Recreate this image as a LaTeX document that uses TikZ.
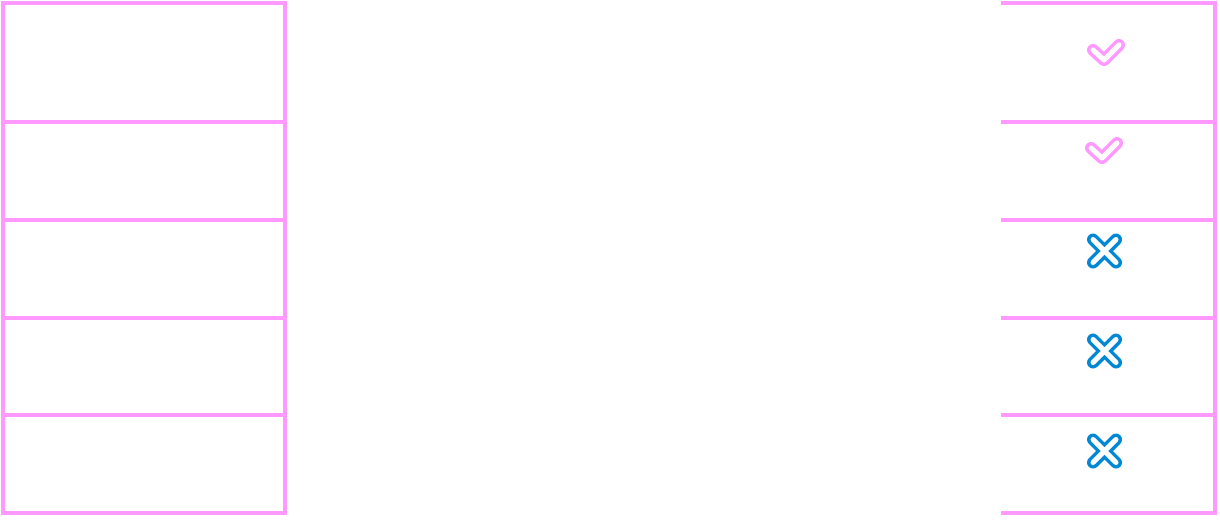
\documentclass[tikz,border=0pt]{standalone}
\usepackage{amsmath}
\usepackage{amssymb}

\definecolor{gridpink}{RGB}{255,153,255}
\definecolor{crossblue}{RGB}{0,136,212}

\tikzset{
	gridline/.style={draw=gridpink, line width=4pt},
	markouter/.style={draw=#1, line width=12pt, line cap=round, line join=round},
	markinner/.style={draw=white, line width=5pt, line cap=round, line join=round}
}

\begin{document}
\begin{tikzpicture}[x=1pt,y=1pt,yscale=-1,xscale=1]
	\useasboundingbox (0,0) rectangle (1220,522);
	% left table
	\draw [gridline] (3,1) -- (3,515) ;
	\foreach \ya/\yb in {3/122, 122/220, 220/318, 318/415, 415/513} {
		\draw [gridline] (285,\ya) -- (285,\yb) ;
	}
	\foreach \y in {3, 122, 220, 318, 415, 513} {
		\draw [gridline] (1,\y) -- (287,\y) ;
		\draw [gridline] (1001,\y) -- (1217,\y) ;
	}
	% right column
	\draw [gridline] (1215,1) -- (1215,515) ;
	% ticks
	\foreach \x/\y in {1093/50, 1091/148} {
		\draw [markouter=gridpink] (\x,\y) -- (\x+11,\y+10) -- (\x+26,\y-5) ;
		\draw [markinner] (\x,\y) -- (\x+11,\y+10) -- (\x+26,\y-5) ;
	}
	% crosses
	\foreach \y in {251, 351, 451} {
		\draw [markouter=crossblue] (1093,\y-11.5) -- (1116,\y+11.5) (1093,\y+11.5) -- (1116,\y-11.5) ;
		\draw [markinner] (1093,\y-11.5) -- (1116,\y+11.5) (1093,\y+11.5) -- (1116,\y-11.5) ;
	}
\end{tikzpicture}
\end{document}
